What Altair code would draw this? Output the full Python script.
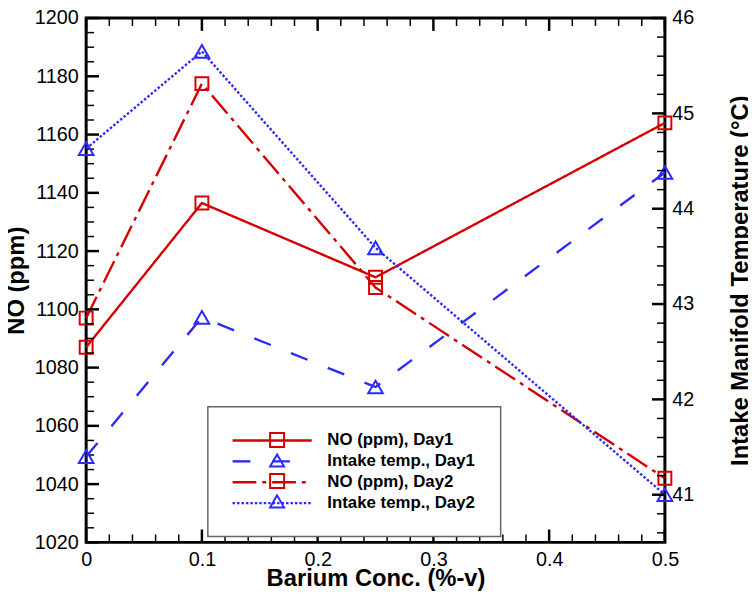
import altair as alt
import pandas as pd

# ---- data ----
barium = [0, 0.1, 0.25, 0.5]
no_day1 = [1087, 1136.5, 1111, 1164]
no_day2 = [1097, 1177.5, 1107.5, 1042]
temp_day1 = [41.40, 42.86, 42.13, 44.38]
temp_day2 = [44.63, 45.65, 43.59, 41.0]

series_names = ["NO (ppm), Day1", "Intake temp., Day1", "NO (ppm), Day2", "Intake temp., Day2"]
marker_names = [s + " " for s in series_names]
series_colors = ["#d40000", "#2b2bff", "#d40000", "#2b2bff"]
series_dashes = [[1, 0], [18, 22], [24, 6, 4, 6], [2.5, 2]]
series_shapes = ["square", "triangle-up", "square", "triangle-up"]

# tick positions
x_major = [0, 0.1, 0.2, 0.3, 0.4, 0.5]
x_minor = [round(i * 0.02, 2) for i in range(26) if i % 5 != 0]
no_major = [1020, 1040, 1060, 1080, 1100, 1120, 1140, 1160, 1180, 1200]
no_minor = [v for v in range(1020, 1201, 5) if v % 20 != 0]
temp_major = [41, 42, 43, 44, 45, 46]
temp_minor = [40.6, 40.8, 41.2, 41.4, 41.6, 41.8, 42.2, 42.4, 42.6, 42.8,
              43.2, 43.4, 43.6, 43.8, 44.2, 44.4, 44.6, 44.8, 45.2, 45.4, 45.6, 45.8]

no_df = pd.DataFrame({
    "x": barium + barium,
    "y": no_day1 + no_day2,
    "series": [series_names[0]] * 4 + [series_names[2]] * 4,
    "marker": [marker_names[0]] * 4 + [marker_names[2]] * 4,
})
temp_df = pd.DataFrame({
    "x": barium + barium,
    "y": temp_day1 + temp_day2,
    "series": [series_names[1]] * 4 + [series_names[3]] * 4,
    "marker": [marker_names[1]] * 4 + [marker_names[3]] * 4,
})

FONT = "Liberation Sans"
W, H = 585, 530
X_DOM = [0, 0.5]
NO_DOM = [1020, 1200]
T_DOM = [40.5, 46]
MAJ_LEN, MIN_LEN = 13, 8     # tick lengths in pixels
MAJ_W, MIN_W = 2.5, 1.5

LEG_X, LEG_Y = 123, 393
line_legend = alt.Legend(
    title=None, orient="none", legendX=LEG_X, legendY=LEG_Y,
    symbolType="M-5.3333,0H5.3333", symbolSize=225, symbolStrokeWidth=2.4,
    symbolOffset=31,
    labelFont=FONT, labelFontSize=17, labelFontWeight="bold", labelColor="black",
    labelOffset=46.8, padding=25, rowPadding=4.1,
    strokeColor="#666666", fillColor="white",
)
marker_legend = alt.Legend(
    title=None, orient="none", legendX=LEG_X, legendY=LEG_Y,
    symbolSize=200, symbolStrokeWidth=2, symbolFillColor="transparent",
    symbolOffset=36.5,
    labelFont=FONT, labelFontSize=17, labelFontWeight="bold", labelOpacity=0,
    labelOffset=46.8, padding=25, rowPadding=alt.ExprRef(expr="-1.3"),
)

color_enc = alt.Color("series:N", scale=alt.Scale(domain=series_names, range=series_colors), legend=line_legend)
dash_enc = alt.StrokeDash("series:N", scale=alt.Scale(domain=series_names, range=series_dashes), legend=line_legend)
stroke_enc = alt.Stroke("marker:N", scale=alt.Scale(domain=marker_names, range=series_colors), legend=marker_legend)
shape_enc = alt.Shape("marker:N", scale=alt.Scale(domain=marker_names, range=series_shapes), legend=marker_legend)


def label_axis(orient, values, fmt, pad, title, tpad, angle=None, tbase=None):
    kw = dict(orient=orient, values=values, ticks=False, domain=False, grid=False,
              labelFlush=False, labelOverlap=False, format=fmt, labelPadding=pad,
              title=title, titlePadding=tpad)
    if angle is not None:
        kw.update(titleAngle=angle)
    if tbase is not None:
        kw.update(titleBaseline=tbase)
    return alt.Axis(**kw)


xs = alt.Scale(domain=X_DOM, nice=False, zero=False)
ys_no = alt.Scale(domain=NO_DOM, nice=False, zero=False)
ys_t = alt.Scale(domain=T_DOM, nice=False, zero=False)

a_x = alt.X("x:Q", scale=xs, axis=label_axis("bottom", x_major, "~g", 7, "Barium Conc. (%-v)", -2))
a_y = alt.Y("y:Q", scale=ys_no, axis=label_axis("left", no_major, "d", 8, "NO (ppm)", 6))
b_x = alt.X("x:Q", scale=xs, axis=None)
b_y = alt.Y("y:Q", scale=ys_t, axis=label_axis("right", temp_major, "~g", 7,
                                               "Intake Manifold Temperature (°C)", 35,
                                               angle=270, tbase="top"))

# data units per pixel, used to turn tick lengths / widths into rectangle corners
XU = (X_DOM[1] - X_DOM[0]) / W
NU = (NO_DOM[1] - NO_DOM[0]) / H
TU = (T_DOM[1] - T_DOM[0]) / H


def x_tick_rects(values, length, width, y_from, sign):
    df = pd.DataFrame({"x": [v - width * XU / 2 for v in values]})
    df["xe"] = [v + width * XU / 2 for v in values]
    df["y"] = y_from
    df["ye"] = y_from + sign * length * NU
    return alt.Chart(df).mark_rect(color="#000000", opacity=1, strokeWidth=0).encode(
        x=a_x, x2="xe:Q", y=a_y, y2="ye:Q")


def y_tick_rects(values, length, width, x_from, sign, xenc, yenc, unit):
    df = pd.DataFrame({"y": [v - width * unit / 2 for v in values]})
    df["ye"] = [v + width * unit / 2 for v in values]
    df["x"] = x_from
    df["xe"] = x_from + sign * length * XU
    return alt.Chart(df).mark_rect(color="#000000", opacity=1, strokeWidth=0).encode(
        x=xenc, x2="xe:Q", y=yenc, y2="ye:Q")


# Layer A: NO (ppm) + inward ticks of bottom, top and left sides
base_a = alt.Chart(no_df)
layer_a = alt.layer(
    base_a.mark_line(strokeWidth=2.4).encode(x=a_x, y=a_y, color=color_enc, strokeDash=dash_enc),
    base_a.mark_point(filled=False, strokeWidth=2, size=170, opacity=1).encode(
        x=a_x, y=a_y, stroke=stroke_enc, shape=shape_enc),
    x_tick_rects(x_major, MAJ_LEN, MAJ_W, NO_DOM[0], 1),
    x_tick_rects(x_minor, MIN_LEN, MIN_W, NO_DOM[0], 1),
    x_tick_rects(x_major, MAJ_LEN, MAJ_W, NO_DOM[1], -1),
    x_tick_rects(x_minor, MIN_LEN, MIN_W, NO_DOM[1], -1),
    y_tick_rects(no_major, MAJ_LEN, MAJ_W, X_DOM[0], 1, a_x, a_y, NU),
    y_tick_rects(no_minor, MIN_LEN, MIN_W, X_DOM[0], 1, a_x, a_y, NU),
)

# Layer B: intake temperature + inward ticks of right side
base_b = alt.Chart(temp_df)
layer_b = alt.layer(
    base_b.mark_line(strokeWidth=2.4).encode(x=b_x, y=b_y, color=color_enc, strokeDash=dash_enc),
    base_b.mark_point(filled=False, strokeWidth=2, size=220, opacity=1).encode(
        x=b_x, y=b_y, stroke=stroke_enc, shape=shape_enc),
    y_tick_rects(temp_major, MAJ_LEN, MAJ_W, X_DOM[1], -1, b_x, b_y, TU),
    y_tick_rects(temp_minor, MIN_LEN, MIN_W, X_DOM[1], -1, b_x, b_y, TU),
)

chart = alt.layer(layer_a, layer_b).resolve_scale(
    x="independent", y="independent"
).properties(
    width=W, height=H,
    autosize=alt.AutoSizeParams(type="none"),
    padding={"left": 79, "top": 7, "right": 84, "bottom": 47},
).configure_view(
    stroke="black", strokeWidth=3
).configure_axis(
    labelFont=FONT, labelFontSize=20, labelColor="black",
    titleFont=FONT, titleFontSize=24, titleFontWeight="bold", titleColor="black",
).configure_legend(
    strokeWidth=1.5, labelFont=FONT, labelFontSize=17, labelFontWeight="bold",
)

chart.save("out.html", embed_options={"renderer": "svg", "actions": False})
